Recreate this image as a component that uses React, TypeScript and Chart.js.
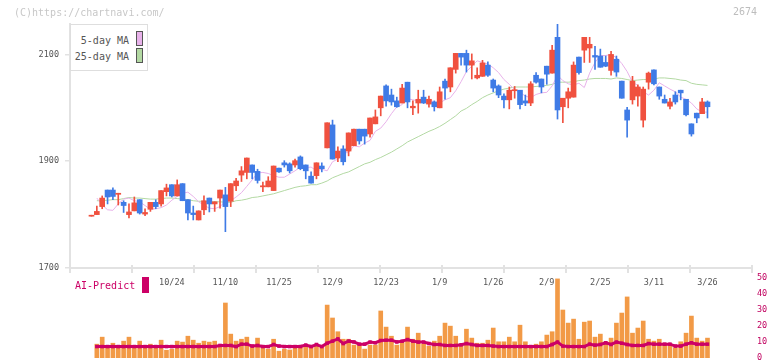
import React, { useEffect, useRef } from 'react';
import { Chart, registerables } from 'chart.js';

Chart.register(...registerables);

const MONO = '"DejaVu Sans Mono", "Liberation Mono", monospace';

// Daily candles (116 trading days)
const OPEN = [
  1797, 1800, 1815, 1846, 1846, 1838, 1823, 1800, 1807, 1828,
  1801, 1810, 1823, 1820, 1843, 1856, 1835, 1858, 1828, 1803,
  1790, 1809, 1831, 1820, 1831, 1837, 1825, 1854, 1874, 1879,
  1893, 1881, 1852, 1852, 1845, 1887, 1897, 1895, 1893, 1908,
  1893, 1872, 1873, 1891, 1925, 1968, 1906, 1923, 1919, 1929,
  1960, 1960, 1951, 1970, 2000, 2041, 2024, 2013, 2009, 2048,
  2000, 2009, 2020, 2007, 2011, 2000, 2050, 2039, 2072, 2102,
  2102, 2080, 2056, 2059, 2080, 2052, 2041, 2022, 2015, 2032,
  2033, 2013, 2009, 2061, 2054, 2078, 2065, 2132, 2002, 2018,
  2020, 2095, 2108, 2112, 2098, 2097, 2085, 2070, 2091, 2050,
  1996, 2015, 2022, 1977, 2048, 2071, 2039, 2016, 2003, 2024,
  2033, 2016, 1970, 1990, 1989, 2011,
];
const HIGH = [
  1797, 1816, 1835, 1846, 1850, 1840, 1826, 1820, 1833, 1828,
  1811, 1823, 1828, 1845, 1857, 1856, 1865, 1858, 1828, 1816,
  1807, 1835, 1831, 1824, 1846, 1851, 1858, 1868, 1890, 1906,
  1893, 1885, 1861, 1871, 1891, 1887, 1901, 1897, 1904, 1910,
  1893, 1880, 1897, 1897, 1972, 1977, 1927, 1929, 1953, 1960,
  1960, 1960, 1981, 1996, 2022, 2043, 2035, 2020, 2044, 2048,
  2013, 2033, 2033, 2022, 2013, 2039, 2054, 2075, 2102, 2102,
  2108, 2101, 2075, 2089, 2086, 2054, 2043, 2026, 2039, 2040,
  2033, 2024, 2049, 2066, 2054, 2078, 2117, 2157, 2018, 2037,
  2086, 2095, 2132, 2132, 2115, 2110, 2097, 2106, 2097, 2050,
  2001, 2059, 2043, 2039, 2067, 2071, 2039, 2024, 2018, 2030,
  2033, 2016, 1970, 1990, 2018, 2013,
];
const LOW = [
  1797, 1800, 1811, 1820, 1828, 1818, 1804, 1794, 1807, 1801,
  1798, 1806, 1811, 1816, 1835, 1833, 1835, 1826, 1790, 1790,
  1790, 1800, 1805, 1806, 1812, 1768, 1815, 1845, 1862, 1867,
  1867, 1859, 1843, 1852, 1845, 1879, 1889, 1878, 1889, 1884,
  1867, 1859, 1867, 1880, 1925, 1904, 1899, 1893, 1910, 1929,
  1932, 1932, 1945, 1970, 1985, 2003, 2005, 2001, 2009, 2000,
  1987, 1990, 2008, 2001, 1994, 2000, 2016, 2030, 2065, 2080,
  2067, 2054, 2054, 2059, 2059, 2030, 2019, 2000, 1998, 2018,
  1998, 2004, 2004, 2046, 2028, 2044, 2065, 1979, 1972, 2000,
  2020, 2063, 2085, 2085, 2072, 2076, 2077, 2061, 2059, 2018,
  1945, 2007, 2003, 1964, 2035, 2043, 2016, 2009, 1998, 2007,
  2015, 1985, 1947, 1972, 1989, 1981,
];
const CLOSE = [
  1797, 1806, 1831, 1833, 1834, 1840, 1817, 1805, 1822, 1803,
  1804, 1823, 1815, 1845, 1850, 1835, 1856, 1826, 1803, 1800,
  1807, 1826, 1820, 1824, 1846, 1815, 1858, 1863, 1882, 1906,
  1879, 1864, 1854, 1863, 1891, 1880, 1893, 1882, 1901, 1886,
  1882, 1859, 1897, 1886, 1972, 1904, 1919, 1899, 1953, 1960,
  1938, 1947, 1981, 1983, 2022, 2013, 2011, 2002, 2037, 2011,
  2003, 2016, 2009, 2016, 2002, 2030, 2037, 2075, 2102, 2095,
  2080, 2088, 2061, 2084, 2061, 2037, 2024, 2015, 2033, 2034,
  2006, 2009, 2045, 2048, 2039, 2063, 2108, 1996, 2018, 2030,
  2080, 2066, 2132, 2119, 2095, 2076, 2078, 2100, 2067, 2018,
  1977, 2050, 2039, 2035, 2065, 2045, 2022, 2009, 2011, 2011,
  2028, 1987, 1951, 1981, 2011, 2002,
];

// Moving averages as drawn (from the 2nd day onward)
const MA5 = [
  1831, 1818, 1809, 1808, 1820, 1829, 1831, 1826, 1824, 1817,
  1810, 1811, 1813, 1818, 1827, 1834, 1840, 1842, 1834, 1824,
  1818, 1812, 1811, 1815, 1825, 1826, 1833, 1841, 1853, 1865,
  1878, 1879, 1877, 1873, 1870, 1870, 1876, 1882, 1889, 1888,
  1889, 1882, 1885, 1882, 1899, 1904, 1916, 1916, 1929, 1927,
  1934, 1939, 1956, 1962, 1974, 1989, 2002, 2006, 2017, 2015,
  2013, 2014, 2015, 2011, 2009, 2015, 2019, 2032, 2049, 2068,
  2078, 2088, 2085, 2082, 2075, 2066, 2053, 2044, 2034, 2029,
  2022, 2019, 2025, 2028, 2029, 2041, 2061, 2051, 2045, 2043,
  2046, 2038, 2065, 2085, 2098, 2098, 2100, 2094, 2083, 2068,
  2048, 2042, 2030, 2024, 2033, 2047, 2041, 2035, 2030, 2020,
  2016, 2009, 1998, 1992, 1992,
];
const MA25 = [
  1826, 1826, 1827, 1828, 1828, 1830, 1832, 1831, 1831, 1830,
  1829, 1829, 1830, 1831, 1831, 1830, 1829, 1828, 1826, 1825,
  1825, 1824, 1824, 1824, 1823, 1823, 1826, 1827, 1829, 1832,
  1833, 1835, 1837, 1839, 1842, 1845, 1848, 1851, 1853, 1854,
  1856, 1856, 1859, 1863, 1869, 1873, 1877, 1880, 1885, 1890,
  1895, 1898, 1903, 1907, 1912, 1917, 1923, 1929, 1936, 1941,
  1946, 1951, 1956, 1960, 1965, 1971, 1978, 1985, 1994, 1999,
  2006, 2012, 2019, 2024, 2028, 2032, 2035, 2037, 2039, 2039,
  2039, 2039, 2040, 2041, 2042, 2044, 2048, 2048, 2048, 2049,
  2051, 2052, 2054, 2055, 2055, 2055, 2054, 2056, 2055, 2053,
  2051, 2052, 2053, 2053, 2054, 2056, 2056, 2055, 2054, 2052,
  2051, 2046, 2044, 2043, 2042,
];

// Volume (lower panel) and AI-Predict line
const VOLUME = [
  8.6, 13.0, 6.5, 9.2, 7.1, 10.5, 13.0, 6.9, 10.5, 7.1,
  8.6, 7.1, 11.1, 4.8, 5.5, 10.5, 9.9, 13.6, 11.1, 9.2,
  10.5, 9.9, 10.5, 7.1, 34.4, 14.9, 10.5, 11.7, 13.0, 7.1,
  12.4, 7.1, 5.5, 11.7, 4.2, 5.5, 5.0, 7.1, 7.1, 7.8,
  6.5, 8.6, 6.5, 33.1, 25.0, 16.4, 11.7, 11.7, 8.0, 8.0,
  5.5, 8.0, 8.0, 29.4, 19.3, 13.6, 8.0, 9.9, 19.3, 11.7,
  15.5, 8.6, 7.3, 10.5, 13.6, 21.8, 19.9, 13.6, 8.0, 18.0,
  12.4, 9.2, 9.2, 11.1, 18.7, 10.1, 10.1, 13.0, 10.1, 20.5,
  10.1, 6.9, 8.6, 10.1, 14.3, 16.4, 49.5, 30.0, 21.8, 24.3,
  11.7, 22.4, 23.1, 13.0, 14.9, 10.1, 12.4, 21.8, 28.1, 38.2,
  15.5, 18.7, 23.1, 11.7, 10.5, 11.7, 9.2, 8.0, 6.3, 10.1,
  15.5, 26.2, 12.4, 10.5, 12.4,
];
const AI_PREDICT = [
  7.1, 7.1, 7.1, 7.1, 7.1, 7.1, 7.1, 7.1, 7.1, 7.1,
  7.1, 7.1, 7.1, 7.1, 7.1, 7.1, 7.1, 7.1, 7.1, 7.1,
  7.1, 7.1, 7.1, 7.8, 7.8, 7.8, 7.1, 8.6, 8.6, 7.4,
  7.8, 7.1, 7.1, 8.4, 7.4, 7.1, 7.1, 7.1, 7.1, 8.0,
  7.1, 8.4, 7.1, 9.2, 10.5, 11.9, 9.0, 10.5, 10.0, 8.6,
  8.6, 9.9, 9.5, 10.9, 11.1, 11.1, 10.0, 10.5, 11.5, 10.5,
  9.9, 9.9, 9.0, 8.4, 8.4, 7.8, 7.8, 7.8, 8.2, 9.0,
  8.4, 7.8, 7.8, 7.8, 7.4, 7.1, 7.1, 7.1, 7.1, 7.1,
  7.1, 7.1, 7.1, 7.1, 7.1, 8.4, 9.9, 7.4, 7.1, 7.1,
  7.1, 7.1, 8.6, 8.0, 8.4, 9.5, 8.4, 9.9, 9.2, 8.4,
  7.8, 7.8, 7.8, 9.0, 8.6, 8.6, 8.6, 8.6, 7.4, 7.4,
  8.6, 9.5, 8.6, 8.6, 8.6,
];

const DATE_LABELS = ['10/24', '11/10', '11/25', '12/9', '12/23', '1/9', '1/26', '2/9', '2/25', '3/11', '3/26'];
const DATE_LABEL_INDEX = [15, 25, 35, 45, 55, 65, 75, 85, 95, 105, 115];
const PRICE_TICKS = [1700, 1900, 2100];
const VOLUME_TICKS = [0, 10, 20, 30, 40, 50];
const X_DIVISIONS = 11;

const X_MIN = -4.01;
const X_MAX = 123.31;

const UP = '#f0513f';
const DOWN = '#3f7be6';
const AXIS = '#e2e2e2';

const xTickPlugin = {
  id: 'xTickMarks',
  afterDraw(chart: any) {
    const { ctx, chartArea } = chart;
    ctx.save();
    ctx.strokeStyle = AXIS;
    ctx.lineWidth = 2;
    for (let i = 0; i <= X_DIVISIONS; i++) {
      const x = chartArea.left + ((chartArea.right - chartArea.left) * i) / X_DIVISIONS;
      ctx.beginPath();
      ctx.moveTo(x, chartArea.bottom - 3);
      ctx.lineTo(x, chartArea.bottom + 5);
      ctx.stroke();
    }
    ctx.restore();
  },
};

export default function App() {
  const mainRef = useRef<HTMLCanvasElement>(null);
  const volRef = useRef<HTMLCanvasElement>(null);

  useEffect(() => {
    const idx = CLOSE.map((_, i) => i);
    const colors = CLOSE.map((c, i) => (c >= OPEN[i] ? UP : DOWN));

    const main = new Chart(mainRef.current as HTMLCanvasElement, {
      type: 'bar',
      data: {
        datasets: [
          {
            type: 'line',
            data: MA25.map((v, i) => ({ x: i + 1, y: v })),
            borderColor: '#b3d9a3',
            borderWidth: 1,
            pointRadius: 0,
            order: 4,
          } as any,
          {
            type: 'line',
            data: MA5.map((v, i) => ({ x: i + 1, y: v })),
            borderColor: '#e8b2ea',
            borderWidth: 1,
            pointRadius: 0,
            order: 3,
          } as any,
          {
            type: 'bar',
            data: idx.map((i) => ({ x: i, y: [LOW[i], HIGH[i]] })),
            backgroundColor: colors,
            barThickness: 1,
            minBarLength: 1,
            grouped: false,
            order: 2,
          } as any,
          {
            type: 'bar',
            data: idx.map((i) => ({ x: i, y: [OPEN[i], CLOSE[i]] })),
            backgroundColor: colors,
            barThickness: 5,
            minBarLength: 1,
            grouped: false,
            order: 1,
          } as any,
        ],
      },
      options: {
        responsive: false,
        animation: false,
        layout: { padding: { left: 0, right: 20, top: 24, bottom: 0 } },
        plugins: { legend: { display: false }, tooltip: { enabled: false } },
        scales: {
          x: {
            type: 'linear',
            min: X_MIN,
            max: X_MAX,
            offset: false,
            grid: { display: false, drawTicks: false },
            border: { display: true, color: AXIS, width: 2 },
            afterBuildTicks: (s: any) => {
              s.ticks = DATE_LABEL_INDEX.map((v) => ({ value: v }));
            },
            afterFit: (s: any) => {
              s.height = 32;
            },
            ticks: {
              autoSkip: false,
              maxRotation: 0,
              padding: 10,
              color: '#555',
              font: { family: MONO, size: 8.5 },
              callback: (v: any) => {
                const k = DATE_LABEL_INDEX.indexOf(Number(v));
                return k >= 0 ? DATE_LABELS[k] : '';
              },
            },
          },
          y: {
            type: 'linear',
            min: 1700,
            max: Math.max(...HIGH),
            afterBuildTicks: (s: any) => {
              s.ticks = PRICE_TICKS.map((v) => ({ value: v }));
            },
            afterFit: (s: any) => {
              s.width = 70;
            },
            grid: { drawOnChartArea: false, drawTicks: true, tickLength: 5, color: AXIS, lineWidth: 1.5 },
            border: { display: true, color: AXIS, width: 2 },
            ticks: {
              padding: 6,
              color: '#555',
              font: { family: MONO, size: 8.5 },
              callback: (v: any) => String(v),
            },
          },
        },
      } as any,
      plugins: [xTickPlugin],
    });

    const vol = new Chart(volRef.current as HTMLCanvasElement, {
      type: 'bar',
      data: {
        datasets: [
          {
            type: 'line',
            data: AI_PREDICT.map((v, i) => ({ x: i + 1, y: v })),
            borderColor: '#cc0066',
            backgroundColor: '#cc0066',
            borderWidth: 3,
            pointStyle: 'rect',
            pointRadius: 2.5,
            pointBorderWidth: 0,
            order: 1,
          } as any,
          {
            type: 'bar',
            data: VOLUME.map((v, i) => ({ x: i + 1, y: v })),
            backgroundColor: '#f29a46',
            barThickness: 4,
            grouped: false,
            order: 2,
          } as any,
        ],
      },
      options: {
        responsive: false,
        animation: false,
        layout: { padding: { left: 70, right: 0, top: 10, bottom: 10 } },
        plugins: { legend: { display: false }, tooltip: { enabled: false } },
        scales: {
          x: { type: 'linear', min: X_MIN, max: X_MAX, display: false, offset: false },
          y: {
            type: 'linear',
            position: 'right',
            min: 0,
            max: 50,
            afterBuildTicks: (s: any) => {
              s.ticks = VOLUME_TICKS.map((v) => ({ value: v }));
            },
            afterFit: (s: any) => {
              s.width = 20;
            },
            grid: { display: false, drawTicks: false },
            border: { display: false },
            ticks: { padding: 5, color: '#c0005f', font: { family: MONO, size: 8.5 } },
          },
        },
      } as any,
    });

    return () => {
      main.destroy();
      vol.destroy();
    };
  }, []);

  const text = (extra: React.CSSProperties): React.CSSProperties => ({
    position: 'absolute',
    fontFamily: MONO,
    fontSize: 10,
    lineHeight: '12px',
    whiteSpace: 'nowrap',
    ...extra,
  });

  return (
    <div style={{ position: 'fixed', left: 0, top: 0, width: 772, height: 361, background: '#fff', overflow: 'hidden' }}>
      <canvas ref={mainRef} width={772} height={300} style={{ position: 'absolute', left: 0, top: 0 }} />
      <canvas ref={volRef} width={772} height={100} style={{ position: 'absolute', left: 0, top: 268 }} />

      <div style={text({ left: 14, top: 7, color: '#c8c8c8' })}>(C)https://chartnavi.com/</div>
      <div style={text({ right: 15, top: 6, color: '#bdbdbd' })}>2674</div>

      <div
        style={{
          position: 'absolute',
          left: 70,
          top: 24,
          width: 78,
          height: 47,
          boxSizing: 'border-box',
          border: '1px solid #dedede',
          background: '#fff',
        }}
      />
      <div style={text({ left: 70, width: 59, top: 35, textAlign: 'right', color: '#555' })}>5-day MA</div>
      <div style={text({ left: 70, width: 59, top: 51, textAlign: 'right', color: '#555' })}>25-day MA</div>
      <div style={{ position: 'absolute', left: 136, top: 31, width: 7, height: 15, boxSizing: 'border-box', border: '1px solid #555', background: '#e8b2ea' }} />
      <div style={{ position: 'absolute', left: 136, top: 48, width: 7, height: 15, boxSizing: 'border-box', border: '1px solid #555', background: '#b3d9a3' }} />

      <div style={text({ left: 75, top: 280, color: '#cc0066' })}>AI-Predict</div>
      <div style={{ position: 'absolute', left: 142, top: 277, width: 7, height: 16, background: '#cc0066' }} />
    </div>
  );
}
